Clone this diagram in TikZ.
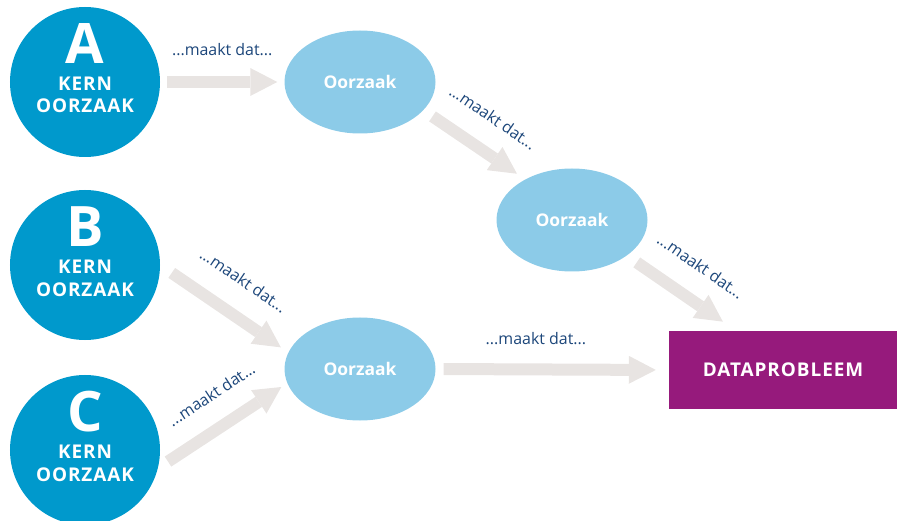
\documentclass[tikz,border=0pt]{standalone}
\usepackage{fontspec}
\setmainfont{Open Sans}
\newfontfamily\spatiefont[LetterSpace=5]{Open Sans}
\usetikzlibrary{arrows.meta,shapes.geometric}
\definecolor{kernblauw}{RGB}{0,153,204}
\definecolor{oorzaakblauw}{RGB}{140,203,232}
\definecolor{probleempaars}{RGB}{150,26,124}
\definecolor{pijlgrijs}{RGB}{232,228,226}
\definecolor{tekstblauw}{RGB}{28,70,122}
\begin{document}
\begin{tikzpicture}[x=1bp,y=1bp,
    kern/.style={circle,fill=kernblauw,minimum size=150bp,inner sep=0pt,
      text=white,align=center,text height=62bp,text depth=0bp,
      font=\spatiefont\bfseries\fontsize{19}{23}\selectfont},
    oorzaak/.style={ellipse,fill=oorzaakblauw,minimum width=151bp,
      minimum height=103bp,inner sep=0pt,text=white,
      font=\bfseries\fontsize{17.5}{20}\selectfont},
    probleem/.style={rectangle,fill=probleempaars,minimum width=228bp,
      minimum height=77bp,text=white,
      font=\spatiefont\bfseries\fontsize{19}{22}\selectfont},
    flow/.style={draw=pijlgrijs,line width=12bp,
      -{Triangle[length=27bp,width=28bp,line width=0pt]}},
    maakt/.style={text=tekstblauw,inner sep=0pt,font=\fontsize{16}{18}\selectfont}]
  \useasboundingbox (0,0) rectangle (897,-521);
  % kernoorzaken
  \node[kern] (A) at (85,-82) {{\fontsize{56}{56}\selectfont A}\\[4bp]KERN\\OORZAAK};
  \node[kern] (B) at (85,-265) {{\fontsize{56}{56}\selectfont B}\\[4bp]KERN\\OORZAAK};
  \node[kern] (C) at (85,-450) {{\fontsize{56}{56}\selectfont C}\\[4bp]KERN\\OORZAAK};
  % oorzaken en het probleem
  \node[oorzaak] (o1) at (360,-82) {Oorzaak};
  \node[oorzaak] (o2) at (572,-220) {Oorzaak};
  \node[oorzaak] (o3) at (360,-369) {Oorzaak};
  \node[probleem] (dp) at (783,-370) {DATAPROBLEEM};
  \begin{scope}[flow]
    \draw[shorten <=7bp,shorten >=7bp] (A.east) -- (o1.west)
      node[maakt,midway,above=20bp] {...maakt dat...};
    \draw[shorten <=11bp,shorten >=10bp] (o1.-24) -- (o2.139)
      node[maakt,midway,sloped,above=21bp] {...maakt dat...};
    \draw[shorten <=12bp,shorten >=17bp] (o2.-33) -- (dp.140)
      node[maakt,midway,sloped,above=21bp] {...maakt dat...};
    \draw[shorten <=14bp,shorten >=9bp] (B.east) -- (o3.167)
      node[maakt,midway,sloped,above=22bp] {...maakt dat...};
    \draw[shorten <=12bp,shorten >=7bp] (C.-14) -- (o3.191)
      node[maakt,pos=0.55,sloped,above=20bp] {...maakt dat...};
    \draw[shorten <=8bp,shorten >=13bp] (o3.east) -- (dp.west)
      node[maakt,pos=0.43,above=19bp] {...maakt dat...};
  \end{scope}
\end{tikzpicture}
\end{document}
